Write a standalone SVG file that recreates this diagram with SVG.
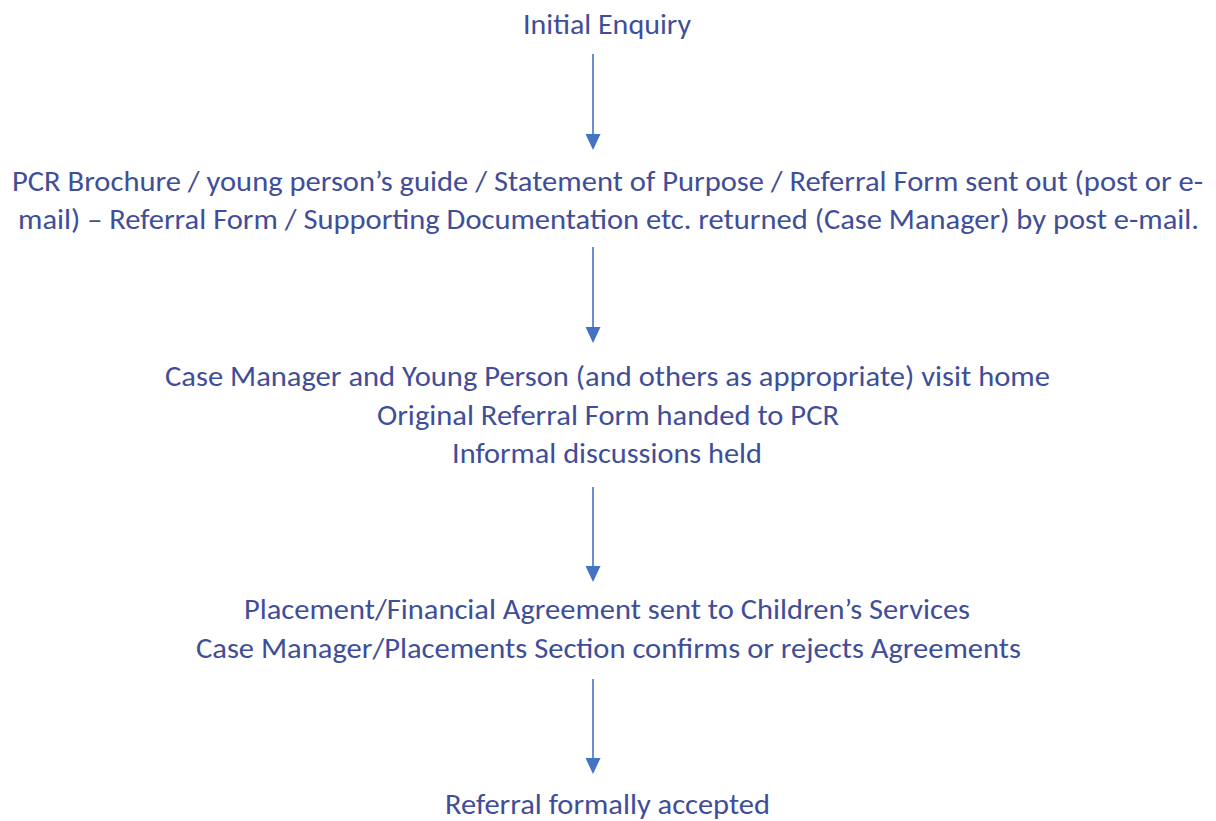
<svg xmlns="http://www.w3.org/2000/svg" width="1216" height="821" viewBox="0 0 1216 821">
  <style>
    .lbl { font-family: Carlito, Lato, "Liberation Sans", sans-serif; font-size: 29px; fill: #3F4E98; }
    .flow { stroke: #4472C4; stroke-width: 1.6; fill: none; }
    .head { fill: #4472C4; }
  </style>
  <rect width="1216" height="821" fill="#FFFFFF"/>

  <g id="connectors">
    <line class="flow" x1="593" y1="54" x2="593" y2="136"/>
    <polygon class="head" points="585.5,134 600.5,134 593,150"/>
    <line class="flow" x1="593" y1="247" x2="593" y2="329"/>
    <polygon class="head" points="585.5,327 600.5,327 593,343"/>
    <line class="flow" x1="593" y1="487" x2="593" y2="568"/>
    <polygon class="head" points="585.5,566 600.5,566 593,582"/>
    <line class="flow" x1="593" y1="679" x2="593" y2="760"/>
    <polygon class="head" points="585.5,758 600.5,758 593,774"/>
  </g>

  <g id="initial-enquiry">
    <text class="lbl" x="523" y="34" textLength="168" lengthAdjust="spacingAndGlyphs">Initial Enquiry</text>
  </g>

  <g id="documents-sent">
    <text class="lbl" x="12" y="191" textLength="1191" lengthAdjust="spacingAndGlyphs">PCR Brochure / young person’s guide / Statement of Purpose / Referral Form sent out (post or e-</text>
    <text class="lbl" x="18" y="229" textLength="1181" lengthAdjust="spacingAndGlyphs">mail) – Referral Form / Supporting Documentation etc. returned (Case Manager) by post e-mail.</text>
  </g>

  <g id="home-visit">
    <text class="lbl" x="165" y="386" textLength="885" lengthAdjust="spacingAndGlyphs">Case Manager and Young Person (and others as appropriate) visit home</text>
    <text class="lbl" x="377" y="425" textLength="462" lengthAdjust="spacingAndGlyphs">Original Referral Form handed to PCR</text>
    <text class="lbl" x="452" y="463" textLength="310" lengthAdjust="spacingAndGlyphs">Informal discussions held</text>
  </g>

  <g id="agreement">
    <text class="lbl" x="244" y="619" textLength="726" lengthAdjust="spacingAndGlyphs">Placement/Financial Agreement sent to Children’s Services</text>
    <text class="lbl" x="196" y="658" textLength="825" lengthAdjust="spacingAndGlyphs">Case Manager/Placements Section confirms or rejects Agreements</text>
  </g>

  <g id="accepted">
    <text class="lbl" x="445" y="814" textLength="325" lengthAdjust="spacingAndGlyphs">Referral formally accepted</text>
  </g>
</svg>
